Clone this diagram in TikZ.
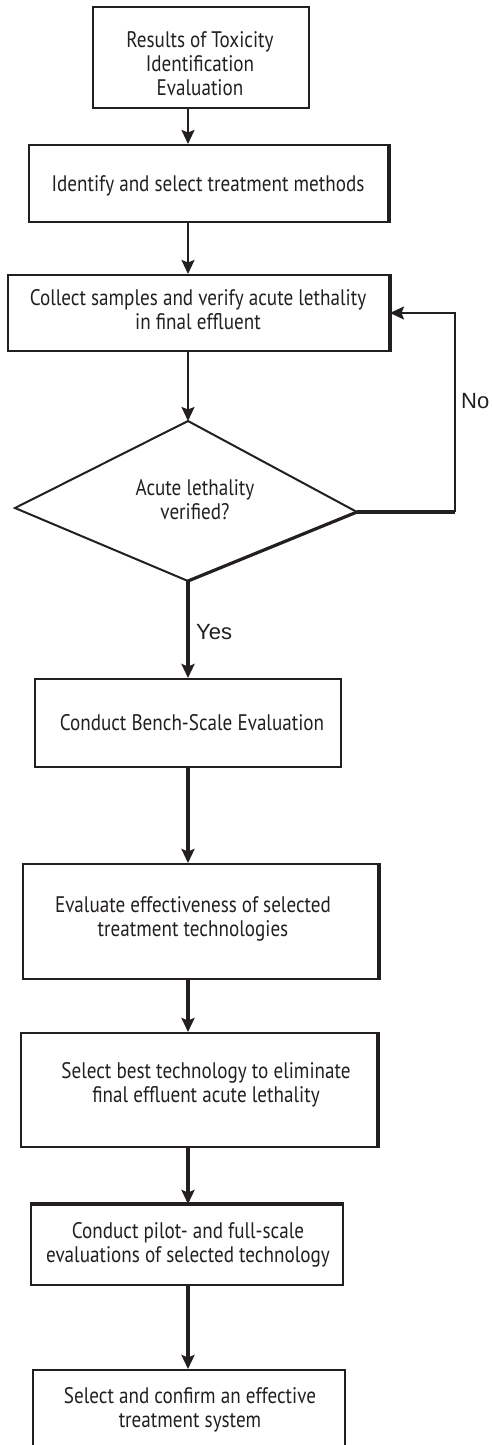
\documentclass[tikz,border=0pt]{standalone}
\usepackage{fontspec}
\setmainfont{PT Sans}[FakeStretch=0.85]
\newfontfamily\labelfont{Liberation Sans}
\usetikzlibrary{arrows.meta}
\definecolor{ink}{HTML}{231F20}
\begin{document}
\begin{tikzpicture}[x=1pt,y=-1pt,
  ink/.style={draw=ink},
  stepbox/.style={draw=ink,line width=2pt,rectangle,inner sep=0pt},
  boxtext/.style={text=ink,align=center,inner sep=0pt,
    font=\fontsize{22.5}{24}\selectfont},
  ynlabel/.style={text=ink,inner sep=0pt,anchor=west,
    font=\labelfont\fontsize{22}{24}\selectfont},
  tip/.style={-{Stealth[length=14pt,width=13pt,inset=2.5pt]}},
  thinarrow/.style={draw=ink,line width=2.2pt,tip},
  thickarrow/.style={draw=ink,line width=4pt,tip},
  heavy/.style={draw=ink,line width=3.6pt}]
\useasboundingbox (0,0) rectangle (491,1445);

% vertical axis of the main flow
\coordinate (axis) at (188,0);
\coordinate (loopx) at (455,0);

% process boxes
\node[stepbox,minimum width=216pt,minimum height=101pt] (b1) at (201,57.5) {};
\node[stepbox,minimum width=359pt,minimum height=77pt]  (b2) at (208.5,183.5) {};
\node[stepbox,minimum width=381pt,minimum height=76pt]  (b3) at (198.5,313) {};
\node[stepbox,minimum width=306pt,minimum height=88pt]  (b4) at (188,723) {};
\node[stepbox,minimum width=355pt,minimum height=115pt] (b5) at (200.5,921.5) {};
\node[stepbox,minimum width=356pt,minimum height=114pt] (b6) at (199,1090) {};
\node[stepbox,minimum width=312pt,minimum height=80pt]  (b7) at (187,1245) {};
\node[stepbox,minimum width=312pt,minimum height=100pt] (b8) at (189,1420) {};

% heavier edges of some boxes
\draw[heavy] (b2.north east) -- (b2.south east);
\draw[heavy] (b3.north east) -- (b3.south east);
\draw[heavy] (b5.north east) -- (b5.south east);
\draw[heavy] (b6.north east) -- (b6.south east);
\draw[heavy] (b7.north west) -- (b7.north east);

% decision diamond
\coordinate (dtop) at (188,421);
\coordinate (dright) at (357,512);
\coordinate (dbot) at (188,581);
\coordinate (dleft) at (15,508);
\draw[ink,line width=2pt,line join=miter] (dtop) -- (dright) -- (dbot) -- (dleft) -- cycle;
\draw[ink,line width=3.2pt] (dright) -- (dbot);

% box texts
\node[boxtext] (t1) at (200,64) {Results of Toxicity\\Identification\\Evaluation};
\node[boxtext] (t2) at (208,186) {Identify and select treatment methods};
\node[boxtext] (t3) at (198,310) {Collect samples and verify acute lethality\\in final effluent};
\node[boxtext] (d)  at (195,500) {Acute lethality\\verified?};
\node[boxtext] (t4) at (192,723) {Conduct Bench-Scale Evaluation};
\node[boxtext] (t5) at (193,919) {Evaluate effectiveness of selected\\treatment technologies};
\node[boxtext] (t6) at (206,1085) {Select best technology to eliminate\\final effluent acute lethality};
\node[boxtext] (t7) at (188,1245) {Conduct pilot- and full-scale\\evaluations of selected technology};
\node[boxtext] (t8) at (190,1410) {Select and confirm an effective\\treatment system};

% connectors
\draw[thinarrow] (axis |- b1.south) -- (axis |- b2.north);
\draw[thinarrow] (axis |- b2.south) -- (axis |- b3.north);
\draw[thinarrow] (axis |- b3.south) -- (dtop);
\draw[thickarrow] (dbot) -- (axis |- b4.north);
\draw[thickarrow] (axis |- b4.south) -- (axis |- b5.north);
\draw[thickarrow] (axis |- b5.south) -- (axis |- b6.north);
\draw[thickarrow] (axis |- b6.south) -- (axis |- b7.north);
\draw[thickarrow] (axis |- b7.south) -- (axis |- b8.north);

% loop back when lethality is not verified
\draw[ink,line width=3.6pt] (dright) -- (dright -| loopx);
\draw[thinarrow] (dright -| loopx) |- (b3.east);

% branch labels
\node[ynlabel] (no)  at (461,401) {No};
\node[ynlabel] (yes) at (196,632) {Yes};
\end{tikzpicture}
\end{document}
